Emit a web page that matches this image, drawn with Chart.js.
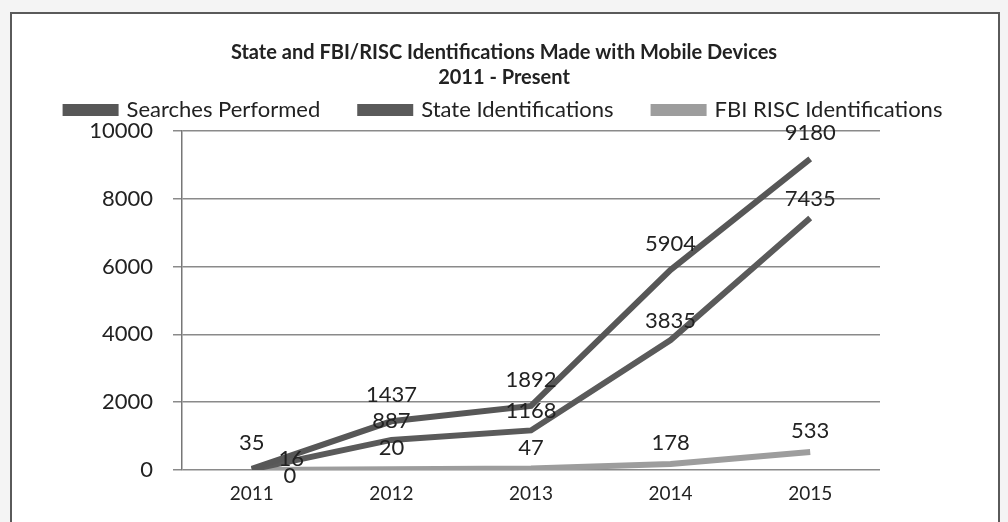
<!DOCTYPE html>
<html>
<head>
<meta charset="utf-8">
<script src="https://cdn.jsdelivr.net/npm/chart.js@4"></script>
<style>
  html, body { margin: 0; padding: 0; background: #f4f4f4; }
  #wrap { position: relative; width: 1008px; height: 522px; }
  #frame { position: absolute; left: 10px; top: 12px; width: 990px; height: 520px;
           border: 2px solid #5a5a5a; background: #fff; box-sizing: border-box; }
  canvas { position: absolute; left: 0; top: 0; }
</style>
</head>
<body>
<div id="wrap">
  <div id="frame"></div>
  <canvas id="idChart" width="1008" height="522"></canvas>
</div>
<script>
const years = ["2011", "2012", "2013", "2014", "2015"];
const searchesPerformed = [35, 1437, 1892, 5904, 9180];
const stateIdentifications = [16, 887, 1168, 3835, 7435];
const fbiRiscIdentifications = [0, 20, 47, 178, 533];
const yTicks = [0, 2000, 4000, 6000, 8000, 10000];

const FONT = "Lato, 'Open Sans', sans-serif";

// value labels above each point; if a label would sit on top of an earlier
// one it is pushed to the right, then below the point
const pointLabels = {
    id: "pointLabels",
    afterDatasetsDraw(chart) {
        const c = chart.ctx;
        c.save();
        c.font = "22px " + FONT;
        c.fillStyle = "#222";
        c.textAlign = "center";
        c.textBaseline = "middle";
        const placed = [];
        const hits = (b) => placed.some(p =>
            b.x - b.w / 2 < p.x + p.w / 2 && b.x + b.w / 2 > p.x - p.w / 2 &&
            b.y - 9 < p.y + 9 && b.y + 9 > p.y - 9);
        chart.data.datasets.forEach((ds, i) => {
            chart.getDatasetMeta(i).data.forEach((pt, j) => {
                const txt = String(ds.data[j]);
                const w = c.measureText(txt).width;
                const tries = [
                    { x: pt.x, y: pt.y - ds.labelOffset },
                    { x: pt.x + w + 14, y: pt.y - ds.labelOffset + 8 },
                    { x: pt.x + 38, y: pt.y + 6 }
                ];
                const spot = tries.find(t => !hits({ ...t, w })) || tries[2];
                placed.push({ ...spot, w });
                c.fillText(txt, spot.x, spot.y);
            });
        });
        c.restore();
    }
};

const ctx = document.getElementById("idChart").getContext("2d");
const chart = new Chart(ctx, {
    type: "line",
    data: {
        labels: years,
        datasets: [{
            label: "Searches Performed",
            data: searchesPerformed,
            borderColor: "#575757",
            backgroundColor: "#575757",
            borderWidth: 6,
            pointRadius: 0,
            labelOffset: 26
        }, {
            label: "State Identifications",
            data: stateIdentifications,
            borderColor: "#5a5a5a",
            backgroundColor: "#5a5a5a",
            borderWidth: 6,
            pointRadius: 0,
            labelOffset: 19
        }, {
            label: "FBI RISC Identifications",
            data: fbiRiscIdentifications,
            borderColor: "#9d9d9d",
            backgroundColor: "#9d9d9d",
            borderWidth: 6,
            pointRadius: 0,
            labelOffset: 21
        }]
    },
    options: {
        responsive: false,
        animation: false,
        layout: { padding: { left: 0, right: 0, top: 0, bottom: 12 } },
        plugins: {
            title: {
                display: true,
                text: ["State and FBI/RISC Identifications Made with Mobile Devices", "2011 - Present"],
                color: "#222",
                font: { family: FONT, size: 20, weight: "bold", lineHeight: 1.25 },
                padding: { top: 40, bottom: -31 }
            },
            legend: {
                display: true,
                labels: {
                    color: "#222",
                    font: { family: FONT, size: 22 },
                    boxWidth: 50,
                    boxHeight: 6,
                    padding: 40
                }
            },
            tooltip: { enabled: false }
        },
        scales: {
            x: {
                offset: true,
                grid: { display: false, drawTicks: false },
                border: { display: false },
                ticks: {
                    color: "#222",
                    font: { family: FONT, size: 19 },
                    padding: 12
                },
                afterFit(axis) { axis.height = 40; }
            },
            y: {
                min: 0,
                max: 10000,
                afterBuildTicks(axis) { axis.ticks = yTicks.map(v => ({ value: v })); },
                grid: { color: "#8a8a8a", lineWidth: 1.5, tickLength: 9 },
                border: { display: true, color: "#777", width: 1.5 },
                ticks: {
                    color: "#222",
                    font: { family: FONT, size: 22 },
                    padding: 20,
                    callback: v => String(v)
                },
                afterFit(axis) { axis.width = 182; }
            },
            // empty right-hand axis, only reserves the blank strip right of the plot
            spacer: {
                type: "linear",
                position: "right",
                grid: { display: false },
                border: { display: false },
                ticks: { display: false },
                afterFit(axis) { axis.width = 128; }
            }
        }
    },
    plugins: [pointLabels]
});
</script>
</body>
</html>
